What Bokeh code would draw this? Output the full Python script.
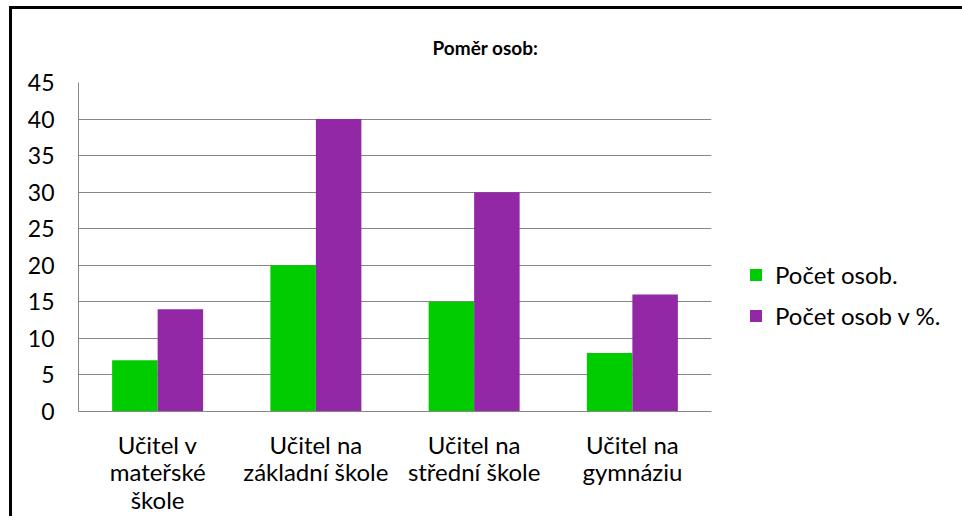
from bokeh.plotting import figure
from bokeh.models import (ColumnDataSource, FactorRange, Range1d, FixedTicker,
                          Legend, LegendItem)
from bokeh.transform import dodge
from bokeh.embed import file_html
from bokeh.resources import INLINE

# ---- data ----
categories = ["Učitel v\nmateřské\nškole", "Učitel na\nzákladní škole",
              "Učitel na\nstřední škole", "Učitel na\ngymnáziu"]
pocet_osob = [7, 20, 15, 8]
pocet_osob_pct = [14, 40, 30, 16]
y_ticks = [0, 5, 10, 15, 20, 25, 30, 35, 40, 45]
series_names = ["Počet osob.", "Počet osob v %."]
title_text = "Poměr osob:"

GREEN = "#00CC00"
PURPLE = "#9228A6"
GRID = "#868686"
FONT = "Lato"

source = ColumnDataSource(dict(cat=categories, a=pocet_osob, b=pocet_osob_pct))

p = figure(frame_width=633, frame_height=329, output_backend="svg",
           toolbar_location=None,
           x_range=FactorRange(factors=categories, range_padding=0),
           y_range=Range1d(0, 45),
           min_border_left=66, min_border_top=73, min_border_bottom=100,
           min_border_right=240)
p.styles = {"border-top": "3px solid black", "border-left": "3px solid black",
            "margin-left": "9px", "margin-top": "6px"}
p.outline_line_color = None
p.background_fill_color = "white"
p.border_fill_color = "white"

p.title.text = title_text
p.title.align = "left"
p.title.vertical_align = "top"
p.title.offset = 354
p.title.standoff = 43
p.title.text_font = FONT
p.title.text_font_style = "bold"
p.title.text_font_size = "19px"
p.title.text_color = "black"

bw = 0.2875
r1 = p.vbar(x=dodge("cat", -bw / 2, range=p.x_range), top="a", width=bw,
            source=source, fill_color=GREEN, line_color=None)
r2 = p.vbar(x=dodge("cat", bw / 2, range=p.x_range), top="b", width=bw,
            source=source, fill_color=PURPLE, line_color=None)

# axes
p.yaxis.ticker = FixedTicker(ticks=y_ticks)
p.yaxis.major_tick_out = 0
p.yaxis.major_tick_in = 0
p.yaxis.minor_tick_line_color = None
p.yaxis.axis_line_color = GRID
p.yaxis.major_label_standoff = 24
p.yaxis.major_label_text_font = FONT
p.yaxis.major_label_text_font_size = "23px"
p.yaxis.major_label_text_color = "black"

p.xaxis.major_tick_out = 0
p.xaxis.major_tick_in = 0
p.xaxis.axis_line_color = GRID
p.xaxis.major_label_standoff = 18
p.xaxis.major_label_text_font = FONT
p.xaxis.major_label_text_font_size = "24px"
p.xaxis.major_label_text_color = "black"
p.xaxis.major_label_text_line_height = 0.95

p.xgrid.grid_line_color = None
p.ygrid.grid_line_color = GRID
p.ygrid.grid_line_width = 1

# legend
legend = Legend(items=[LegendItem(label=series_names[0], renderers=[r1]),
                       LegendItem(label=series_names[1], renderers=[r2])],
                location=(37, 81), orientation="vertical",
                glyph_width=15, glyph_height=15, label_height=20,
                label_standoff=12, spacing=12, padding=0, margin=0,
                border_line_color=None, background_fill_alpha=0,
                label_text_font=FONT, label_text_font_size="24px",
                label_text_color="black")
p.add_layout(legend, "right")

open("out.html", "w").write(file_html(p, INLINE))
